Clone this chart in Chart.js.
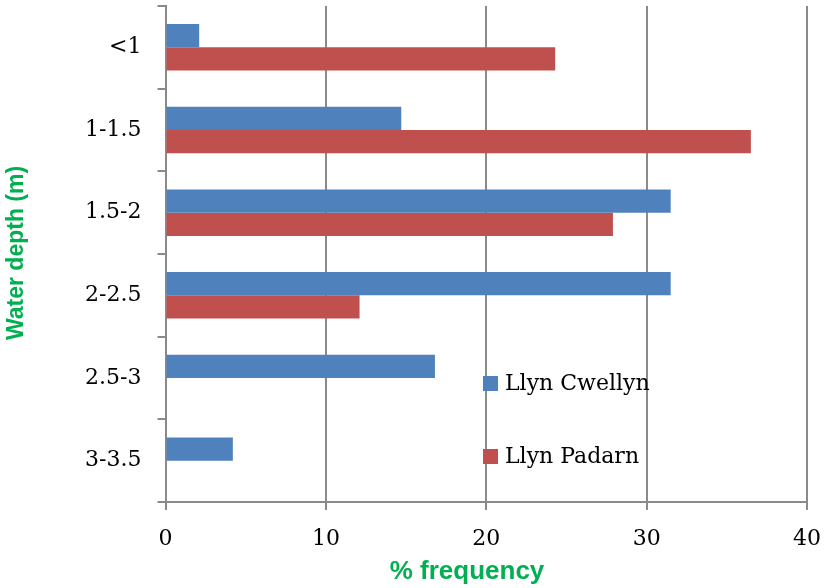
<!DOCTYPE html>
<html>
<head>
<meta charset="utf-8">
<script src="https://cdn.jsdelivr.net/npm/chart.js@4/dist/chart.umd.min.js"></script>
<style>
  body { margin: 0; background: #fff; }
  #wrap { width: 829px; height: 588px; }
</style>
</head>
<body>
<div id="wrap"><canvas id="barChart" width="829" height="588"></canvas></div>
<script>
const depthLabels = ['<1', '1-1.5', '1.5-2', '2-2.5', '2.5-3', '3-3.5']
const cwellyn = [2.1, 14.7, 31.5, 31.5, 16.8, 4.2]
const padarn = [24.3, 36.5, 27.9, 12.1, 0, 0]
const freqTicks = [0, 10, 20, 30, 40]

const serif = 'DejaVu Serif'
const green = '#00B050'
const axisGrey = '#8a8a8a'

// axis titles and the in-plot legend, placed like the original
const extras = {
    id: 'extras',
    afterDraw(chart) {
        const ctx = chart.ctx
        ctx.save()
        ctx.fillStyle = green
        ctx.textAlign = 'center'
        ctx.textBaseline = 'middle'
        ctx.font = 'bold 26px "Liberation Sans"'
        ctx.fillText('% frequency', 467, 572)
        ctx.translate(17, 253)
        ctx.rotate(-Math.PI / 2)
        ctx.font = 'bold 23px "Liberation Sans"'
        ctx.fillText('Water depth (m)', 0, 0)
        ctx.restore()

        ctx.save()
        ctx.font = '22px "' + serif + '"'
        ctx.textBaseline = 'middle'
        ctx.textAlign = 'left'
        const rows = [383.5, 456.5]
        chart.data.datasets.forEach((ds, i) => {
            ctx.fillStyle = ds.backgroundColor
            ctx.fillRect(483, rows[i] - 7.5, 15, 15)
            ctx.fillStyle = '#000'
            ctx.fillText(ds.label, 505, rows[i] + 1)
        })
        ctx.restore()
    }
}

// keep the plot edges where the layout padding puts them
const noLabelPadding = (scale) => {
    scale.paddingTop = 0
    scale.paddingBottom = 0
    scale.paddingLeft = 0
    scale.paddingRight = 0
}

new Chart(document.getElementById('barChart').getContext('2d'), {
    type: 'bar',
    data: {
        labels: depthLabels,
        datasets: [
            { label: 'Llyn Cwellyn', data: cwellyn, backgroundColor: '#4F81BD' },
            { label: 'Llyn Padarn', data: padarn, backgroundColor: '#C0504D' },
        ]
    },
    options: {
        indexAxis: 'y',
        responsive: false,
        animation: false,
        categoryPercentage: 0.5625,
        barPercentage: 1,
        layout: { padding: { top: 6, right: 22, left: 0, bottom: 0 } },
        plugins: {
            legend: { display: false },
            tooltip: { enabled: false },
        },
        scales: {
            x: {
                min: 0,
                max: 40,
                afterFit: (scale) => {
                    scale.height = 86
                    noLabelPadding(scale)
                },
                afterBuildTicks: (scale) => { scale.ticks = freqTicks.map(v => ({ value: v })) },
                ticks: {
                    color: '#000',
                    font: { family: serif, size: 22 },
                    padding: 16,
                    maxRotation: 0,
                },
                grid: { color: axisGrey, lineWidth: 2, tickLength: 8 },
                border: { color: axisGrey, width: 2 },
            },
            y: {
                afterFit: (scale) => {
                    scale.width = 165.5
                    noLabelPadding(scale)
                },
                ticks: {
                    color: '#000',
                    font: { family: serif, size: 22 },
                    padding: 16,
                },
                grid: { drawOnChartArea: false, color: axisGrey, lineWidth: 2, tickLength: 8, offset: true },
                border: { color: axisGrey, width: 2 },
            },
        }
    },
    plugins: [extras]
})
</script>
</body>
</html>
